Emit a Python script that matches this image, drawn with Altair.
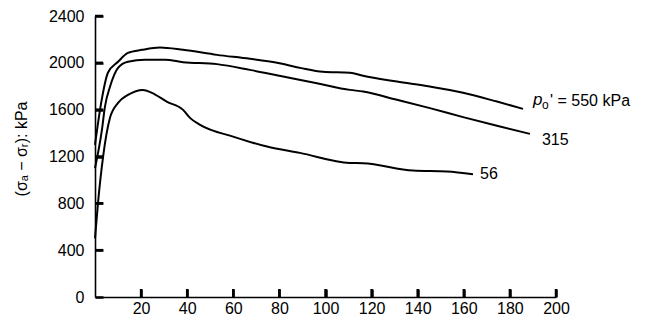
import altair as alt
import pandas as pd

# Curve data
x_550 = [0, 2.9, 5.6, 10, 14.3, 20.4, 28.2, 38.2, 52.9, 67.2, 79, 89, 98.9, 110.6, 116.3, 131, 145.3, 159.7, 174.4, 185.7]
y_550 = [1300, 1684, 1915, 2009, 2085, 2111, 2131, 2111, 2068, 2034, 2000, 1957, 1923, 1915, 1889, 1840, 1797, 1744, 1669, 1607]

x_315 = [0, 3, 4.3, 6.5, 10, 14.3, 21.7, 30.4, 38.2, 52.9, 67.2, 81.6, 96.3, 110.6, 116.3, 131, 145.3, 159.7, 174.4, 188.7]
y_315 = [1100, 1427, 1624, 1795, 1957, 2009, 2026, 2026, 2006, 1989, 1940, 1883, 1826, 1769, 1755, 1684, 1613, 1536, 1462, 1393]

x_56 = [0, 1.3, 3.5, 6.5, 10, 14.3, 20.8, 24.7, 31.1, 38.2, 41.2, 45.6, 59.9, 74.6, 88.9, 110.6, 116.3, 138, 152.7, 164]
y_56 = [500, 803, 1197, 1530, 1658, 1726, 1769, 1744, 1669, 1598, 1530, 1470, 1370, 1285, 1231, 1145, 1143, 1080, 1072, 1049]

x_ticks = [20, 40, 60, 80, 100, 120, 140, 160, 180, 200]
y_ticks = [0, 400, 800, 1200, 1600, 2000, 2400]

W, H = 461, 281
FONT = "Liberation Sans"

rows = []
for name, xs_, ys_ in [("550", x_550, y_550), ("315", x_315, y_315), ("56", x_56, y_56)]:
    for i, (a, b) in enumerate(zip(xs_, ys_)):
        rows.append({"series": name, "x": a, "y": b, "order": i})
df = pd.DataFrame(rows)

xs = alt.Scale(domain=[0, 200], nice=False)
ys = alt.Scale(domain=[0, 2400], nice=False)

INWARD = alt.ExprRef(expr="-8")  # inward-pointing ticks

lines = alt.Chart(df).mark_line(color="black", strokeWidth=2, interpolate="monotone").encode(
    x=alt.X("x:Q", scale=xs,
            axis=alt.Axis(values=x_ticks, ticks=True, tickSize=INWARD, tickColor="black",
                          tickWidth=2.5, labelPadding=11, labelFontSize=16,
                          labelFont=FONT, labelColor="black", domainColor="black",
                          domainWidth=1.6, grid=False, title=None, labelFlush=False,
                          format="d")),
    y=alt.Y("y:Q", scale=ys,
            axis=alt.Axis(values=y_ticks, ticks=True, tickSize=INWARD, tickColor="black",
                          tickWidth=2.5, labelPadding=19, labelFontSize=16,
                          labelFont=FONT, labelColor="black", domainColor="black",
                          domainWidth=1.6, grid=False, title=None, labelFlush=False,
                          format="d")),
    detail="series:N",
    order="order:Q",
)

# Same inward ticks drawn as rules (coincide with the axis ticks)
ytick_df = pd.DataFrame({"y": y_ticks[1:]})
ytick = alt.Chart(ytick_df).mark_rule(color="black", strokeWidth=2.5).encode(
    y=alt.Y("y:Q", scale=ys), x=alt.value(0), x2=alt.value(8))

xtick_df = pd.DataFrame({"x": x_ticks})
xtick = alt.Chart(xtick_df).mark_rule(color="black", strokeWidth=2.5).encode(
    x=alt.X("x:Q", scale=xs), y=alt.value(H), y2=alt.value(H - 8))

end_df = pd.DataFrame({
    "series": ["550", "315", "56"],
    "x": [x_550[-1], x_315[-1], x_56[-1]],
    "y": [y_550[-1], y_315[-1], y_56[-1]],
})

def end_text(series, text, dx, dy, size=16, style="normal"):
    return alt.Chart(end_df[end_df.series == series]).mark_text(
        text=text, align="left", baseline="middle", dx=dx, dy=dy,
        fontSize=size, font=FONT, fontStyle=style, color="black",
    ).encode(x=alt.X("x:Q", scale=xs), y=alt.Y("y:Q", scale=ys))

lab_p = end_text("550", "p", 10, -9, 17, "italic")
lab_o = end_text("550", "o", 19, -4, 12)
lab_rest = end_text("550", "' = 550 kPa", 27, -8, 16)
lab_315 = end_text("315", "315", 12, 6, 16)
lab_56 = end_text("56", "56", 7, 0, 16)

ytitle = alt.Chart(end_df.head(1)).mark_text(
    text="(σₐ − σᵣ): kPa", angle=270, align="center", baseline="middle",
    fontSize=16, font=FONT, color="black",
).encode(x=alt.value(-73), y=alt.value(133))

chart = alt.layer(
    lines, ytick, xtick, lab_p, lab_o, lab_rest, lab_315, lab_56, ytitle
).properties(
    width=W, height=H,
    autosize=alt.AutoSizeParams(type="none"),
    padding={"left": 87, "top": 8, "right": 91, "bottom": 22},
).configure_view(stroke=None)

chart.save("out.html", embed_options={"renderer": "svg", "actions": False})
